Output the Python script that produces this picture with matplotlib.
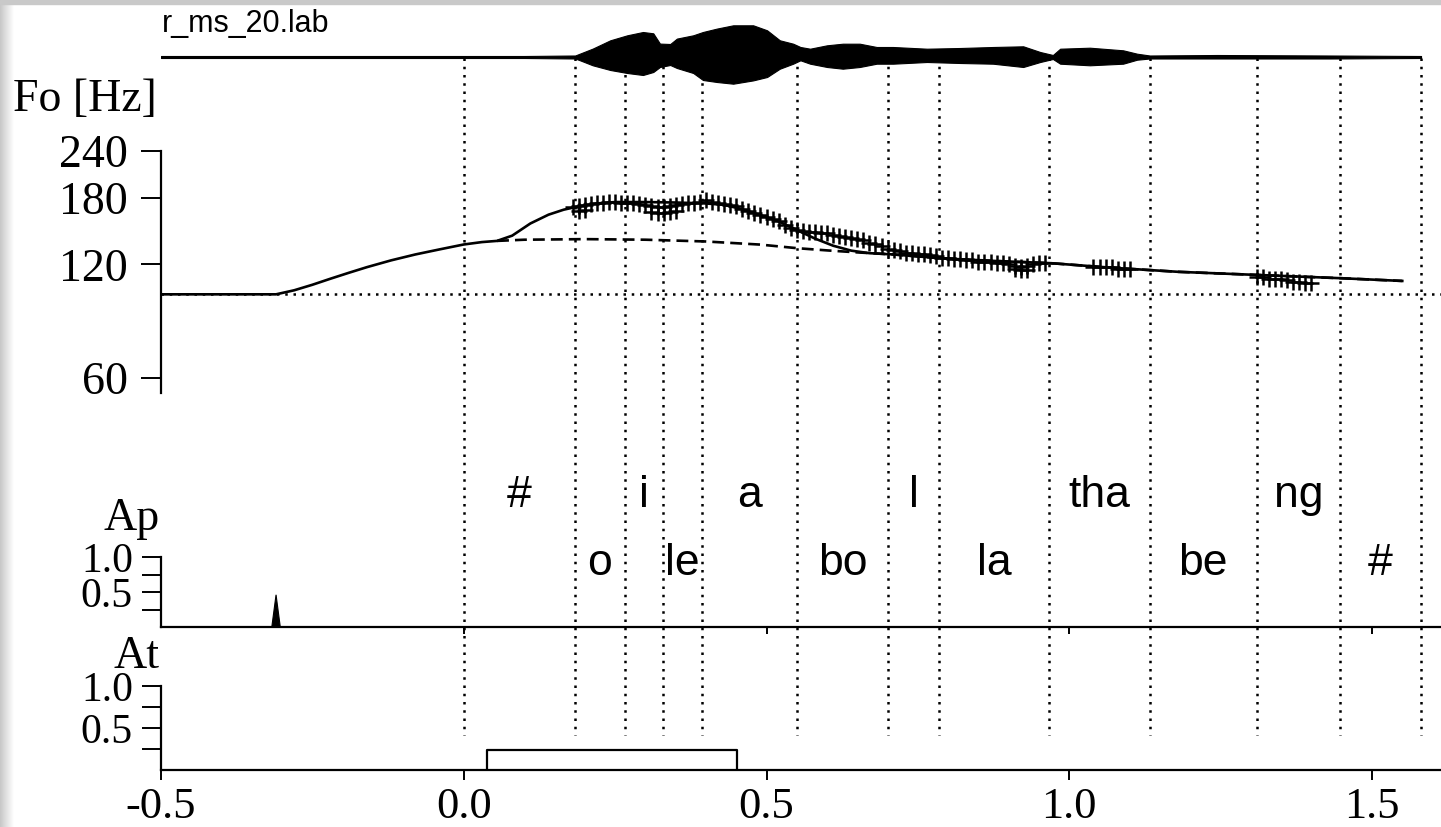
import numpy as np
import matplotlib
matplotlib.use("Agg")
import matplotlib.pyplot as plt
from matplotlib.ticker import NullLocator

# -----------------------
# Data
# -----------------------
file_label = "r_ms_20.lab"

# segment boundaries [s] and labels
seg_bounds = [0.0, 0.183, 0.267, 0.329, 0.394, 0.550, 0.701, 0.785, 0.967, 1.133, 1.310, 1.447, 1.581]
seg_labels = ["#", "o", "i", "le", "a", "bo", "l", "la", "tha", "be", "ng", "#"]

# speech waveform envelope (upper / lower excursion, screen units)
wave_t = [-0.50, 0.10, 0.184, 0.192, 0.213, 0.242, 0.270, 0.296, 0.313, 0.324, 0.341, 0.352,
          0.379, 0.395, 0.418, 0.445, 0.478, 0.501, 0.522, 0.544, 0.556, 0.572, 0.600, 0.626,
          0.654, 0.682, 0.709, 0.765, 0.820, 0.874, 0.924, 0.952, 0.973, 0.985, 1.034, 1.089,
          1.112, 1.133, 1.244, 1.431, 1.581]
wave_up = [1, 1, 1.5, 3.4, 8.4, 16.7, 21.7, 25, 23.7, 13.4, 13, 18.4,
           21.7, 25, 28.4, 31.7, 31.7, 26.7, 16.7, 13.3, 10, 8.3, 11.7, 13.3,
           13.3, 10, 10, 8.3, 9, 10, 10.7, 5, 2, 8.3, 9.3, 6.7,
           3.3, 1.5, 2, 1.5, 1]
wave_dn = [1, 1, 1.5, 3.3, 8.3, 13, 16, 18, 15, 10, 8, 11,
           16, 23, 25, 26.7, 23.4, 20, 11.7, 6.7, 3.3, 6.7, 10, 11.7,
           10, 6.7, 6.7, 5, 6, 6.7, 10, 5, 2, 6.7, 8.3, 6.7,
           2.7, 1.5, 1.5, 1.5, 1]

# base frequency [Hz]
fb = 100

# model F0 contour (solid)
model_t = [-0.50, -0.31, -0.28, -0.25, -0.22, -0.19, -0.16, -0.12, -0.08, -0.04, 0.00, 0.03,
           0.055, 0.08, 0.11, 0.14, 0.165, 0.19, 0.22, 0.25, 0.30, 0.35, 0.40, 0.43,
           0.46, 0.49, 0.52, 0.55, 0.58, 0.61, 0.64, 0.67, 0.71, 0.75, 0.79, 0.88,
           0.97, 1.07, 1.18, 1.35, 1.45, 1.55]
model_f0 = [100, 100, 102.5, 106, 110, 114, 118, 123, 127.5, 131.5, 135.5, 137.5,
            138.5, 143, 154, 162.5, 167.5, 171, 174, 175.5, 175.5, 175, 174, 172.5,
            168, 162, 156, 148, 140.5, 134.5, 130.5, 128.5, 127.5, 126, 124.5, 122.5,
            120.9, 117.6, 114.7, 111.9, 110.3, 108.5]

# phrase component (dashed)
phrase_t = [0.055, 0.10, 0.20, 0.30, 0.40, 0.49, 0.55, 0.60, 0.654, 0.71, 0.79, 0.88,
            0.97, 1.07, 1.18, 1.35, 1.45, 1.55]
phrase_f0 = [138.5, 139.5, 140, 139.5, 138, 135.4, 132.5, 130.7, 129, 127.5, 124.5, 122.5,
             120.9, 117.6, 114.7, 111.9, 110.3, 108.5]

# measured F0 (+ markers)
meas_t = [0.18, 0.19, 0.20, 0.21, 0.22, 0.23, 0.24, 0.25, 0.26, 0.27, 0.28, 0.29, 0.30,
          0.31, 0.32, 0.33, 0.34, 0.35, 0.36, 0.37, 0.38, 0.39, 0.40, 0.41, 0.42, 0.43,
          0.44, 0.45, 0.46, 0.47, 0.48, 0.49, 0.50, 0.51, 0.52, 0.53, 0.54, 0.55, 0.56,
          0.57, 0.58, 0.59, 0.60, 0.61, 0.62, 0.63, 0.64, 0.65, 0.66, 0.67, 0.68, 0.69,
          0.70, 0.71, 0.72, 0.73, 0.74, 0.75, 0.76, 0.77, 0.78, 0.79, 0.80, 0.81, 0.82,
          0.83, 0.84, 0.85, 0.86, 0.87, 0.88, 0.89, 0.90, 0.91, 0.92, 0.93, 0.94, 0.95,
          0.96,
          1.04, 1.05, 1.06, 1.07, 1.08, 1.09, 1.10,
          1.31, 1.32, 1.33, 1.34, 1.35, 1.36, 1.37, 1.38, 1.39, 1.40,
          0.19, 0.20, 0.31, 0.32, 0.33, 0.34, 0.35, 0.91, 0.92, 0.93]
meas_f0 = [170, 171, 172, 173, 174, 175, 176, 176, 175, 175, 174, 173, 172,
           171, 170, 170, 171, 172, 173, 174, 175, 176, 178, 176, 174, 173,
           172, 171, 168, 166, 164, 162, 160, 158, 156, 153, 150, 148, 147,
           146, 146, 145, 145, 144, 143, 142, 141, 140, 139, 137, 136, 134,
           132, 131, 130, 129, 129, 128, 128, 127, 126, 125, 125, 124, 124,
           123, 123, 122, 122, 122, 121, 121, 120, 119, 118, 119, 120, 121,
           121,
           118, 118, 118, 118, 117, 117, 117,
           111, 111, 110, 110, 110, 109, 108, 108, 107, 107,
           166, 167, 165, 164, 164, 165, 166, 117, 116, 116]

# phrase command (impulse) and accent command (box)
ap_t = [-0.310]
ap_amp = [0.46]
at_on = [0.039]
at_off = [0.451]
at_amp = [0.24]

f0_ticks = [60, 120, 180, 240]
cmd_ticks = [0.5, 1.0]
cmd_minor = [0.25, 0.75]
time_ticks = [-0.5, 0.0, 0.5, 1.0, 1.5]

# -----------------------
# Layout (pixel geometry of the 1441x827 picture)
# -----------------------
W, H = 1441, 827
X0_PX = 463.75      # pixel of t = 0
PX_PER_S = 605.5


def t_of_px(px):
    return (px - X0_PX) / PX_PER_S


T_LEFT, T_RIGHT = -0.5, t_of_px(W)

plt.rcParams["font.family"] = ["Liberation Serif", "DejaVu Serif"]
SANS = ["Liberation Sans", "DejaVu Sans"]
PT = 72 / 100  # points per pixel at dpi 100
DOTS = (0, (1, 2.3))

fig = plt.figure(figsize=(W / 100, H / 100), dpi=100)


def px_axes(left, top, right, bottom):
    ax = fig.add_axes([left / W, 1 - bottom / H, (right - left) / W, (bottom - top) / H])
    ax.set_facecolor("none")
    return ax


# grey slide border
edge = fig.add_axes([0, 0, 14 / W, 1])
edge.imshow(np.linspace(0.78, 1.0, 64)[None, :], cmap="gray", vmin=0, vmax=1, aspect="auto")
edge.axis("off")
fig.patches.append(plt.Rectangle((0, 1 - 4 / H), 1, 4 / H, transform=fig.transFigure,
                                 color="#c9c9c9", zorder=0))

# background axes in pixel rows: segment boundaries and labels
ax_bg = px_axes(0, 0, W, H)
ax_bg.set_xlim(t_of_px(0), t_of_px(W))
ax_bg.set_ylim(H, 0)
ax_bg.axis("off")
ax_bg.vlines(seg_bounds, 58, 735, colors="black", linestyles=DOTS, lw=1.8)
for i, lab in enumerate(seg_labels):
    xc = 0.5 * (seg_bounds[i] + seg_bounds[i + 1])
    yrow = 507 if i % 2 == 0 else 575
    ax_bg.text(xc, yrow, lab, ha="center", va="baseline", fontsize=32, family=SANS)

# waveform envelope
ax_w = px_axes(161, 10, W, 100)
ax_w.set_xlim(T_LEFT, T_RIGHT)
ax_w.set_ylim(-43, 47)
ax_w.axis("off")
ax_w.fill_between(wave_t, wave_up, -np.array(wave_dn), color="black", lw=0.8)
fig.text(162 / W, 1 - 32 / H, file_label, ha="left", va="baseline", fontsize=22, family=SANS)

# F0 panel
ax_f = px_axes(161, 150.7, W, 393.3)
ax_f.set_xlim(T_LEFT, T_RIGHT)
ax_f.set_yscale("log")
ax_f.set_ylim(54.7, 240)
ax_f.axhline(fb, color="black", ls=DOTS, lw=1.8)
ax_f.plot(phrase_t, phrase_f0, color="black", ls=(0, (4.5, 2.3)), lw=1.9)
ax_f.plot(model_t, model_f0, color="black", lw=1.9)
ax_f.plot(meas_t, meas_f0, ls="none", marker="+", ms=11, mew=1.8, color="black")
for s in ["top", "right", "bottom"]:
    ax_f.spines[s].set_visible(False)
ax_f.spines["left"].set_linewidth(1.6)
ax_f.set_yticks(f0_ticks)
ax_f.set_yticklabels([str(v) for v in f0_ticks])
ax_f.yaxis.set_minor_locator(NullLocator())
ax_f.tick_params(axis="y", direction="out", length=20 * PT, width=1.4, pad=13 * PT, labelsize=33)
ax_f.tick_params(axis="x", bottom=False, labelbottom=False)
fig.text(13 / W, 1 - 111 / H, "Fo [Hz]", ha="left", va="baseline", fontsize=33)

# Ap panel
ax_p = px_axes(161, 470, W, 627)
ax_p.set_xlim(T_LEFT, T_RIGHT)
ax_p.set_ylim(0, (627 - 470) / 70)
for t0, a in zip(ap_t, ap_amp):
    ax_p.fill([t0 - 0.007, t0, t0 + 0.007], [0, a, 0], color="black", lw=0.8)
for s in ["top", "right"]:
    ax_p.spines[s].set_visible(False)
ax_p.spines["left"].set_bounds(0, 1)
ax_p.spines["left"].set_linewidth(1.6)
ax_p.spines["bottom"].set_linewidth(1.6)
ax_p.set_yticks(cmd_ticks)
ax_p.set_yticklabels(["0.5", "1.0"])
ax_p.set_yticks(cmd_minor, minor=True)
ax_p.tick_params(axis="y", which="both", direction="out", length=19 * PT, width=1.4,
                 pad=9 * PT, labelsize=30)
ax_p.set_xticks(time_ticks[1:])
ax_p.tick_params(axis="x", direction="out", length=7 * PT, width=1.4, labelbottom=False)
fig.text(160 / W, 1 - 530 / H, "Ap", ha="right", va="baseline", fontsize=33)

# At panel
ax_a = px_axes(161, 640, W, 770)
ax_a.set_xlim(T_LEFT, T_RIGHT)
ax_a.set_ylim(0, (770 - 640) / 84)
for t1, t2, a in zip(at_on, at_off, at_amp):
    ax_a.plot([t1, t1, t2, t2], [0, a, a, 0], color="black", lw=1.6)
for s in ["top", "right"]:
    ax_a.spines[s].set_visible(False)
ax_a.spines["left"].set_bounds(0, 1)
ax_a.spines["left"].set_linewidth(1.6)
ax_a.spines["bottom"].set_linewidth(1.6)
ax_a.set_yticks(cmd_ticks)
ax_a.set_yticklabels(["0.5", "1.0"])
ax_a.set_yticks(cmd_minor, minor=True)
ax_a.tick_params(axis="y", which="both", direction="out", length=19 * PT, width=1.4,
                 pad=9 * PT, labelsize=30)
ax_a.set_xticks(time_ticks)
ax_a.set_xticklabels(["-0.5", "0.0", "0.5", "1.0", "1.5"])
ax_a.tick_params(axis="x", direction="out", length=10 * PT, width=1.4, pad=7 * PT, labelsize=32)
fig.text(160 / W, 1 - 668 / H, "At", ha="right", va="baseline", fontsize=33)

fig.savefig("out.png", dpi=100)
